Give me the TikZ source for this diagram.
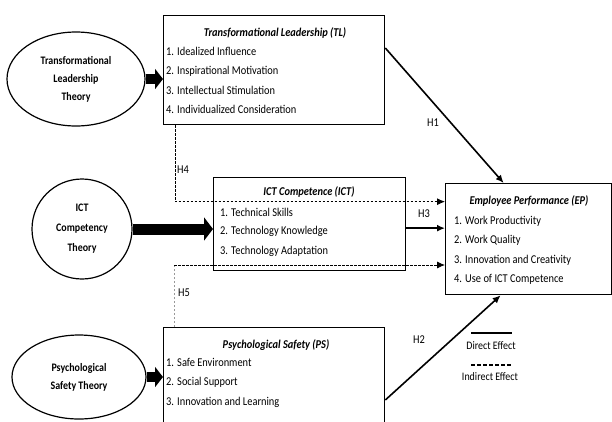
\documentclass[tikz,border=0pt]{standalone}
\usepackage{fontspec}
\setmainfont{Carlito}[FakeStretch=0.87]
\usetikzlibrary{shapes.geometric,arrows.meta,calc}
\colorlet{boxcol}{black}
\colorlet{h5col}{gray!80}

\begin{document}
\begin{tikzpicture}[x=1bp, y=-1bp, font=\fontsize{12}{14}\selectfont,
	    box/.style={draw=boxcol, line width=1.3bp, anchor=north west, inner sep=0pt},
	    theory/.style={draw, ellipse, line width=1.2bp, inner sep=0pt, align=center, font=\fontsize{11.5}{18}\selectfont\bfseries},
	    boxtitle/.style={inner sep=0pt, font=\fontsize{12}{14}\selectfont\bfseries\itshape},
	    item/.style={anchor=west, inner sep=0pt},
	    feed/.style={line width=10bp, -{Triangle[length=8bp,width=20bp]}},
	    direct/.style={line width=1.6bp, -{Latex[length=8bp,width=7bp]}},
	    indirect/.style={line width=0.8bp, dash pattern=on 2.5bp off 1.5bp, -{Latex[length=8bp,width=7bp]}},
	    hyp/.style={inner sep=0pt}]

		\useasboundingbox[fill=white] (0,0) rectangle (612,421);

		% theories
		\node[theory, minimum width=138bp, minimum height=94bp] (tlt) at (76,79) {Transformational\\Leadership\\Theory};
		\node[theory, circle, minimum size=100bp, font=\fontsize{11.5}{20}\selectfont\bfseries] (ictt) at (82,229) {ICT\\Competency\\Theory};
		\node[theory, minimum width=134bp, minimum height=84bp] (pst) at (79,377) {Psychological\\Safety Theory};

		% constructs
		\node[box, minimum width=221bp, minimum height=109bp] (tl) at (163,15) {};
		\node[boxtitle] (tltitle) at (275,33) {Transformational Leadership (TL)};
		\foreach \t [count=\i] in {Idealized Influence, Inspirational Motivation, Intellectual Stimulation, Individualized Consideration}
			\node[item] (tl\i) at (166, 32.5+19.3*\i) {\i. \t};

		\node[box, minimum width=192bp, minimum height=93bp] (ict) at (213,177) {};
		\node[boxtitle] (icttitle) at (309,192) {ICT Competence (ICT)};
		\foreach \t [count=\i] in {Technical Skills, Technology Knowledge, Technology Adaptation}
			\node[item] (ict\i) at (220, 192.5+19.5*\i) {\i. \t};

		\node[box, minimum width=166bp, minimum height=111bp] (ep) at (445,183) {};
		\node[boxtitle] (eptitle) at (529,201) {Employee Performance (EP)};
		\foreach \t [count=\i] in {Work Productivity, Work Quality, Innovation and Creativity, Use of ICT Competence}
			\node[item] (ep\i) at (454, 201.5+19.5*\i) {\i. \t};

		\node[box, minimum width=221bp, minimum height=110bp] (ps) at (163,327) {};
		\node[boxtitle] (pstitle) at (276,345) {Psychological Safety (PS)};
		\foreach \t [count=\i] in {Safe Environment, Social Support, Innovation and Learning}
			\node[item] (ps\i) at (166, 343+19.7*\i) {\i. \t};

		\draw[feed] (tlt.east) -- (tlt.east -| tl.west);
		\draw[feed, line width=11bp, -{Triangle[length=9bp,width=23bp]}] (ictt.east) -- (ictt.east -| ict.west);
		\draw[feed] (pst.east) -- (pst.east -| ps.west);

		% hypotheses
		\draw[direct] ($(tl.north east)+(0,33)$) -- ($(ep.north)+(-25,0)$);
		\draw[direct] ($(ps.north east)+(0,73)$) -- ($(ep.south)+(-28,0)$);
		\draw[direct] ($(ict.east)+(0,4)$) -- ($(ict.east -| ep.west)+(0,4)$);
		\draw[indirect] ($(tl.south west)+(12,0)$) |- ($(ep.west)+(0,-37.5)$);
		\coordinate (h5turn) at ($(ps.north west)+(11,-62)$);
		\draw[indirect, -, h5col] ($(ps.north west)+(11,0)$) -- (h5turn);
		\draw[indirect] (h5turn) -- (h5turn -| ep.west);

		\node[hyp] (h1) at (433,123) {H1};
		\node[hyp] (h2) at (419,340) {H2};
		\node[hyp] (h3) at (424,214) {H3};
		\node[hyp] (h4) at (183,170) {H4};
		\node[hyp] (h5) at (184,293) {H5};

		% legend
		\coordinate (dir1) at (471,333);
		\coordinate (dir2) at (512,333);
		\coordinate (ind1) at (471,365);
		\coordinate (ind2) at (512,365);
		\draw[line width=1.6bp] (dir1) -- (dir2);
		\draw[line width=1.6bp, dash pattern=on 4bp off 2bp] (ind1) -- (ind2);
		\node[hyp, font=\fontsize{11.5}{12}\selectfont] (dirtext) at (491,346) {Direct Effect};
		\node[hyp, font=\fontsize{11.5}{12}\selectfont] (indtext) at (490,377) {Indirect Effect};
\end{tikzpicture}
\end{document}
